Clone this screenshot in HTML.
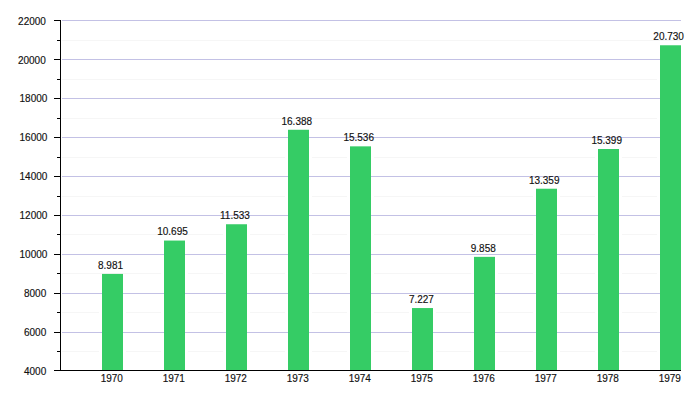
<!DOCTYPE html>
<html><head><meta charset="utf-8"><style>
html,body{margin:0;padding:0;background:#fff;width:700px;height:400px;overflow:hidden}
svg{display:block}
text{font-family:"Liberation Sans",sans-serif;font-size:10px;fill:#111;stroke:#111;stroke-width:0.15px}
</style></head><body>
<svg width="700" height="400" viewBox="0 0 700 400">
<line x1="62" x2="681" y1="351.5" y2="351.5" stroke="#f6f6f6"/>
<line x1="62" x2="681" y1="312.5" y2="312.5" stroke="#f6f6f6"/>
<line x1="62" x2="681" y1="273.5" y2="273.5" stroke="#f6f6f6"/>
<line x1="62" x2="681" y1="234.5" y2="234.5" stroke="#f6f6f6"/>
<line x1="62" x2="681" y1="196.5" y2="196.5" stroke="#f6f6f6"/>
<line x1="62" x2="681" y1="157.5" y2="157.5" stroke="#f6f6f6"/>
<line x1="62" x2="681" y1="118.5" y2="118.5" stroke="#f6f6f6"/>
<line x1="62" x2="681" y1="79.5" y2="79.5" stroke="#f6f6f6"/>
<line x1="62" x2="681" y1="40.5" y2="40.5" stroke="#f6f6f6"/>
<rect x="99" y="273.92" width="27" height="96.08" fill="#fff"/>
<rect x="161" y="240.56" width="27" height="129.44" fill="#fff"/>
<rect x="223" y="224.25" width="27" height="145.75" fill="#fff"/>
<rect x="285" y="129.77" width="27" height="240.23" fill="#fff"/>
<rect x="347" y="146.35" width="27" height="223.65" fill="#fff"/>
<rect x="409" y="308.05" width="27" height="61.95" fill="#fff"/>
<rect x="471" y="256.85" width="27" height="113.15" fill="#fff"/>
<rect x="533" y="188.72" width="27" height="181.28" fill="#fff"/>
<rect x="595" y="149.01" width="27" height="220.99" fill="#fff"/>
<rect x="657" y="45.27" width="27" height="324.73" fill="#fff"/>
<line x1="62" x2="681" y1="332.5" y2="332.5" stroke="#c3c1e5"/>
<line x1="62" x2="681" y1="293.5" y2="293.5" stroke="#c3c1e5"/>
<line x1="62" x2="681" y1="254.5" y2="254.5" stroke="#c3c1e5"/>
<line x1="62" x2="681" y1="215.5" y2="215.5" stroke="#c3c1e5"/>
<line x1="62" x2="681" y1="176.5" y2="176.5" stroke="#c3c1e5"/>
<line x1="62" x2="681" y1="137.5" y2="137.5" stroke="#c3c1e5"/>
<line x1="62" x2="681" y1="98.5" y2="98.5" stroke="#c3c1e5"/>
<line x1="62" x2="681" y1="59.5" y2="59.5" stroke="#c3c1e5"/>
<line x1="62" x2="681" y1="20.5" y2="20.5" stroke="#c3c1e5"/>
<line x1="54" x2="61" y1="370.5" y2="370.5" stroke="#000"/>
<text x="46.25" y="375" text-anchor="end">4000</text>
<line x1="57" x2="61" y1="351.5" y2="351.5" stroke="#000"/>
<line x1="54" x2="61" y1="332.5" y2="332.5" stroke="#000"/>
<text x="46.25" y="336" text-anchor="end">6000</text>
<line x1="57" x2="61" y1="312.5" y2="312.5" stroke="#000"/>
<line x1="54" x2="61" y1="293.5" y2="293.5" stroke="#000"/>
<text x="46.25" y="297" text-anchor="end">8000</text>
<line x1="57" x2="61" y1="273.5" y2="273.5" stroke="#000"/>
<line x1="54" x2="61" y1="254.5" y2="254.5" stroke="#000"/>
<text x="47.35" y="258" text-anchor="end">10000</text>
<line x1="57" x2="61" y1="234.5" y2="234.5" stroke="#000"/>
<line x1="54" x2="61" y1="215.5" y2="215.5" stroke="#000"/>
<text x="47.35" y="219" text-anchor="end">12000</text>
<line x1="57" x2="61" y1="196.5" y2="196.5" stroke="#000"/>
<line x1="54" x2="61" y1="176.5" y2="176.5" stroke="#000"/>
<text x="47.35" y="180" text-anchor="end">14000</text>
<line x1="57" x2="61" y1="157.5" y2="157.5" stroke="#000"/>
<line x1="54" x2="61" y1="137.5" y2="137.5" stroke="#000"/>
<text x="47.35" y="141" text-anchor="end">16000</text>
<line x1="57" x2="61" y1="118.5" y2="118.5" stroke="#000"/>
<line x1="54" x2="61" y1="98.5" y2="98.5" stroke="#000"/>
<text x="47.35" y="102" text-anchor="end">18000</text>
<line x1="57" x2="61" y1="79.5" y2="79.5" stroke="#000"/>
<line x1="54" x2="61" y1="59.5" y2="59.5" stroke="#000"/>
<text x="45.75" y="64" text-anchor="end">20000</text>
<line x1="57" x2="61" y1="40.5" y2="40.5" stroke="#000"/>
<line x1="54" x2="61" y1="20.5" y2="20.5" stroke="#000"/>
<text x="45.90" y="25" text-anchor="end">22000</text>
<rect x="102" y="273.92" width="21" height="96.08" fill="#35cc65"/>
<text x="110.55" y="269" text-anchor="middle">8.981</text>
<text x="111.8" y="382" text-anchor="middle">1970</text>
<rect x="164" y="240.56" width="21" height="129.44" fill="#35cc65"/>
<text x="172.50" y="235" text-anchor="middle">10.695</text>
<text x="173.8" y="382" text-anchor="middle">1971</text>
<rect x="226" y="224.25" width="21" height="145.75" fill="#35cc65"/>
<text x="234.95" y="219" text-anchor="middle">11.533</text>
<text x="235.8" y="382" text-anchor="middle">1972</text>
<rect x="288" y="129.77" width="21" height="240.23" fill="#35cc65"/>
<text x="296.80" y="125" text-anchor="middle">16.388</text>
<text x="297.8" y="382" text-anchor="middle">1973</text>
<rect x="350" y="146.35" width="21" height="223.65" fill="#35cc65"/>
<text x="358.68" y="141" text-anchor="middle">15.536</text>
<text x="359.8" y="382" text-anchor="middle">1974</text>
<rect x="412" y="308.05" width="21" height="61.95" fill="#35cc65"/>
<text x="421.42" y="303" text-anchor="middle">7.227</text>
<text x="421.8" y="382" text-anchor="middle">1975</text>
<rect x="474" y="256.85" width="21" height="113.15" fill="#35cc65"/>
<text x="483.25" y="252" text-anchor="middle">9.858</text>
<text x="483.8" y="382" text-anchor="middle">1976</text>
<rect x="536" y="188.72" width="21" height="181.28" fill="#35cc65"/>
<text x="544.20" y="184" text-anchor="middle">13.359</text>
<text x="545.8" y="382" text-anchor="middle">1977</text>
<rect x="598" y="149.01" width="21" height="220.99" fill="#35cc65"/>
<text x="606.68" y="144" text-anchor="middle">15.399</text>
<text x="607.8" y="382" text-anchor="middle">1978</text>
<rect x="660" y="45.27" width="21" height="324.73" fill="#35cc65"/>
<text x="668.65" y="40" text-anchor="middle">20.730</text>
<text x="669.8" y="382" text-anchor="middle">1979</text>
<line x1="60.5" x2="60.5" y1="20" y2="371" stroke="#000"/>
<line x1="54" x2="681" y1="370.5" y2="370.5" stroke="#000"/>
</svg></body></html>
